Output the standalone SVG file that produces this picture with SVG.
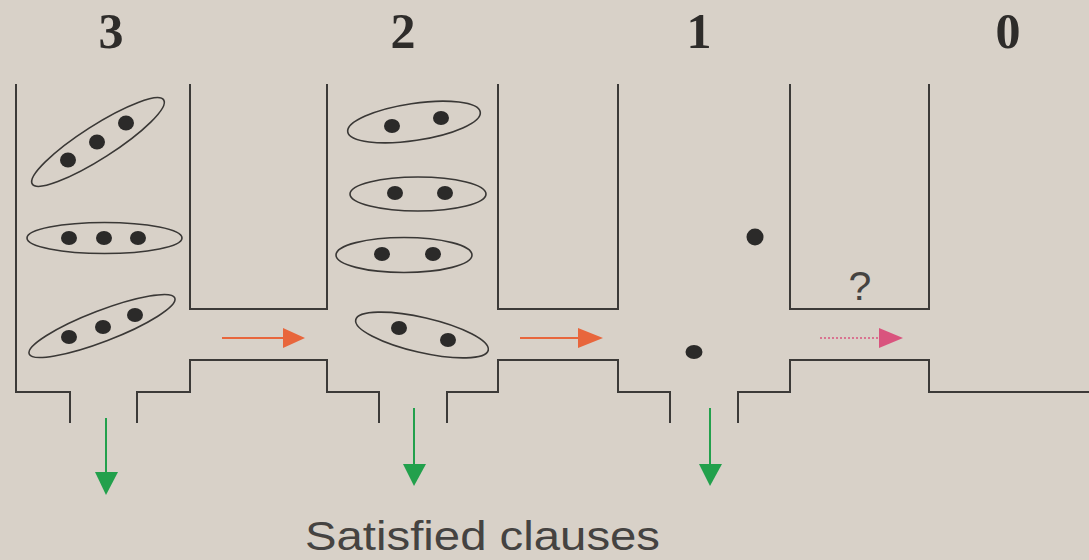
<svg xmlns="http://www.w3.org/2000/svg" width="1089" height="560" viewBox="0 0 1089 560">
  <defs>
    <style>
      .wall { fill: none; stroke: #3c3a38; stroke-width: 2; }
      .clause { fill: none; stroke: #3a3836; stroke-width: 1.6; }
      .lit { fill: #2b2a29; }
      .level { font-family: "Liberation Serif", "Times New Roman", serif; font-weight: bold; font-size: 50px; fill: #2e2c2a; text-anchor: middle; }
      .label { font-family: "Liberation Sans", Arial, sans-serif; fill: #454341; }
      .flow { stroke: #e8663c; stroke-width: 2; fill: none; }
      .drop { stroke: #22a04c; stroke-width: 2; fill: none; }
      .unknown { stroke: #d9547e; stroke-width: 1.4; stroke-dasharray: 2 2; fill: none; }
    </style>
  </defs>

  <rect width="1089" height="560" fill="#d8d1c8"/>

  <!-- level numbers -->
  <g id="levels">
    <text class="level" x="111" y="48">3</text>
    <text class="level" x="403" y="48">2</text>
    <text class="level" x="699" y="48">1</text>
    <text class="level" x="1008" y="48">0</text>
  </g>

  <!-- channel walls and bins -->
  <g id="walls">
    <path class="wall" d="M16,84 V392 H70 V423"/>
    <path class="wall" d="M137,423 V392 H190 V360 H327 V392 H379 V423"/>
    <path class="wall" d="M447,423 V392 H498 V360 H618 V392 H670 V423"/>
    <path class="wall" d="M738,423 V392 H790 V360 H929 V392 H1089"/>
    <path class="wall" d="M190,84 V309 H327 V84"/>
    <path class="wall" d="M498,84 V309 H618 V84"/>
    <path class="wall" d="M790,84 V309 H929 V84"/>
  </g>

  <!-- three-literal clauses -->
  <g id="clause3a">
    <ellipse class="clause" cx="98" cy="142" rx="78" ry="16.5" transform="rotate(-32.6 98 142)"/>
    <ellipse class="lit" cx="68" cy="160" rx="8" ry="7.5"/>
    <ellipse class="lit" cx="97" cy="142" rx="8" ry="7.5"/>
    <ellipse class="lit" cx="126" cy="123" rx="8" ry="7.5"/>
  </g>
  <g id="clause3b">
    <ellipse class="clause" cx="104.5" cy="238" rx="77.5" ry="15.5"/>
    <ellipse class="lit" cx="69" cy="238" rx="8" ry="7"/>
    <ellipse class="lit" cx="104" cy="238" rx="8" ry="7"/>
    <ellipse class="lit" cx="138" cy="238" rx="8" ry="7"/>
  </g>
  <g id="clause3c">
    <ellipse class="clause" cx="102" cy="326" rx="78" ry="15.5" transform="rotate(-21 102 326)"/>
    <ellipse class="lit" cx="69" cy="337" rx="8" ry="7"/>
    <ellipse class="lit" cx="103" cy="327" rx="8" ry="7"/>
    <ellipse class="lit" cx="135" cy="315" rx="8" ry="7"/>
  </g>

  <!-- two-literal clauses -->
  <g id="clause2a">
    <ellipse class="clause" cx="414" cy="122" rx="67" ry="18.5" transform="rotate(-8.5 414 122)"/>
    <ellipse class="lit" cx="392" cy="126" rx="8" ry="7"/>
    <ellipse class="lit" cx="441" cy="118" rx="8" ry="7"/>
  </g>
  <g id="clause2b">
    <ellipse class="clause" cx="418" cy="194" rx="68" ry="17"/>
    <ellipse class="lit" cx="395" cy="193" rx="8" ry="7"/>
    <ellipse class="lit" cx="445" cy="193" rx="8" ry="7"/>
  </g>
  <g id="clause2c">
    <ellipse class="clause" cx="404" cy="255" rx="68" ry="17.5"/>
    <ellipse class="lit" cx="382" cy="254" rx="8" ry="7"/>
    <ellipse class="lit" cx="433" cy="254" rx="8" ry="7"/>
  </g>
  <g id="clause2d">
    <ellipse class="clause" cx="422" cy="335" rx="68" ry="17.5" transform="rotate(13 422 335)"/>
    <ellipse class="lit" cx="399" cy="328" rx="8" ry="7"/>
    <ellipse class="lit" cx="448" cy="340" rx="8" ry="7"/>
  </g>

  <!-- single-literal clauses -->
  <g id="clause1a">
    <ellipse class="lit" cx="755" cy="237" rx="8.5" ry="8.5"/>
  </g>
  <g id="clause1b">
    <ellipse class="lit" cx="694" cy="352" rx="8.5" ry="7"/>
  </g>

  <!-- empty clause bin -->
  <g id="unknown">
    <text class="label" x="860" y="300" font-size="41" text-anchor="middle">?</text>
  </g>

  <!-- flows between levels and out of the system -->
  <g id="connectors">
    <line class="flow" x1="222" y1="338" x2="286" y2="338"/>
    <polygon points="283,328 305,338 283,348" fill="#e8663c"/>
    <line class="flow" x1="520" y1="338" x2="581" y2="338"/>
    <polygon points="578,328 603,338 578,348" fill="#e8663c"/>
    <line class="unknown" x1="820" y1="338" x2="882" y2="338"/>
    <polygon points="879,328 903,338 879,348" fill="#d9547e"/>

    <line class="drop" x1="106" y1="418" x2="106" y2="475"/>
    <polygon points="95,472 118,472 106,495" fill="#22a04c"/>
    <line class="drop" x1="414" y1="408" x2="414" y2="467"/>
    <polygon points="403,464 426,464 414,486" fill="#22a04c"/>
    <line class="drop" x1="710" y1="408" x2="710" y2="467"/>
    <polygon points="699,464 722,464 710,486" fill="#22a04c"/>
  </g>

  <g id="caption">
    <text class="label" x="305" y="550" font-size="40" textLength="355" lengthAdjust="spacingAndGlyphs">Satisfied clauses</text>
  </g>
</svg>
